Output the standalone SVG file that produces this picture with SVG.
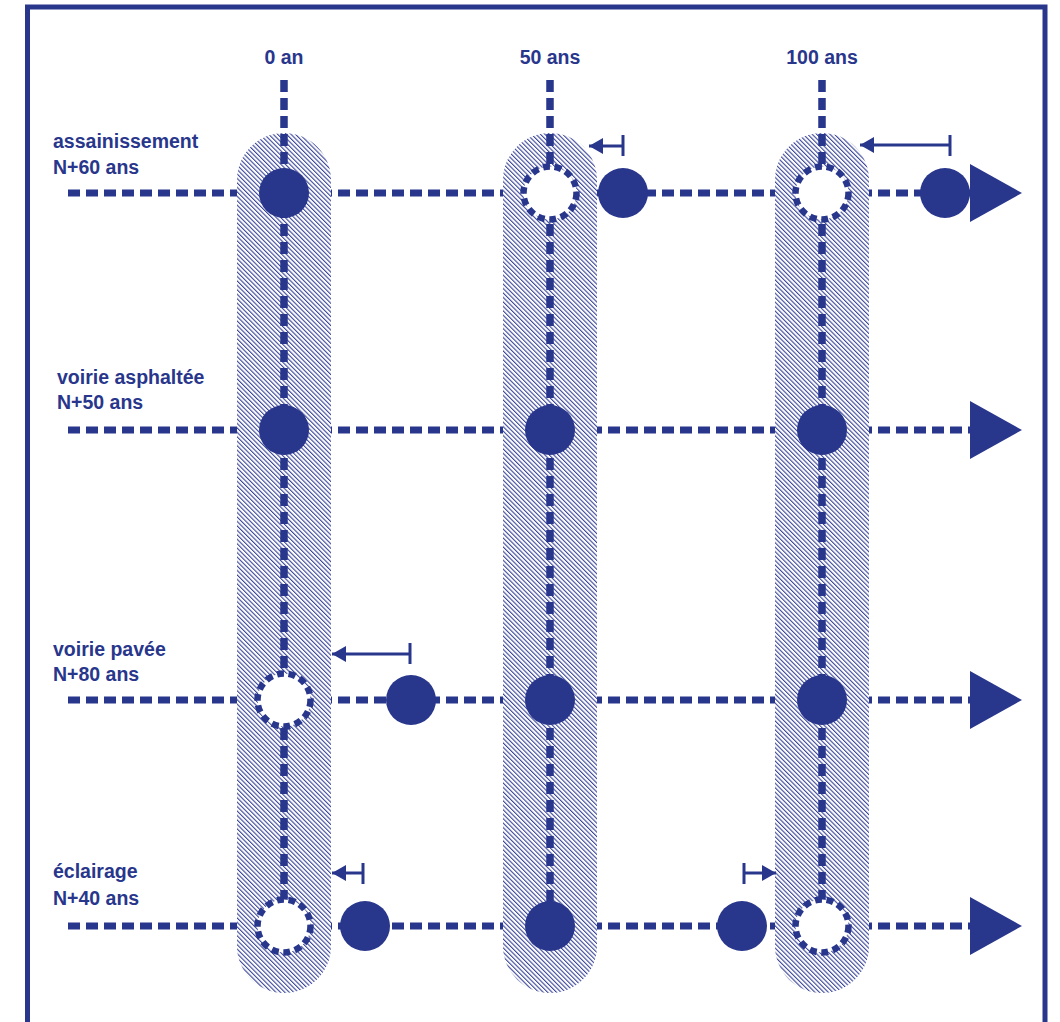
<svg xmlns="http://www.w3.org/2000/svg" width="1060" height="1022" viewBox="0 0 1060 1022">
<defs>
<pattern id="hatch" width="3.15" height="10" patternUnits="userSpaceOnUse" patternTransform="rotate(-45)">
<rect x="0" y="0" width="1.1" height="10" fill="#3a469a"/>
</pattern>
<marker id="ah" viewBox="0 0 14 16" refX="14" refY="8" markerWidth="14" markerHeight="16" markerUnits="userSpaceOnUse" orient="auto">
<path d="M0,0 L14,8 L0,16 Z" fill="#28368c"/>
</marker>
</defs>
<style>
.hl{stroke:#28368c;stroke-width:7;stroke-dasharray:12 6;fill:none}
.vl{stroke:#28368c;stroke-width:7.5;stroke-dasharray:12 6;fill:none}
.col{fill:url(#hatch)}
.colbg{fill:#fff}
.full{fill:#28368c}
.dash{fill:#fff;stroke:#28368c;stroke-width:6.5;stroke-dasharray:7 4.7}
.tri{fill:#28368c}
.sm{stroke:#28368c;stroke-width:3;fill:none}
.lbl{font-family:"Liberation Sans",Arial,sans-serif;font-weight:bold;font-size:19.5px;fill:#28368c}
</style>
<rect x="27.5" y="7" width="1017.5" height="1040" fill="none" stroke="#28368c" stroke-width="5"/>

<g id="labels">
<text class="lbl" x="284" y="64" text-anchor="middle">0 an</text>
<text class="lbl" x="550" y="64" text-anchor="middle">50 ans</text>
<text class="lbl" x="822" y="64" text-anchor="middle">100 ans</text>
<text class="lbl" x="53" y="148">assainissement</text>
<text class="lbl" x="53" y="174">N+60 ans</text>
<text class="lbl" x="57" y="384">voirie asphaltée</text>
<text class="lbl" x="57" y="409">N+50 ans</text>
<text class="lbl" x="53" y="656">voirie pavée</text>
<text class="lbl" x="53" y="681">N+80 ans</text>
<text class="lbl" x="53" y="878">éclairage</text>
<text class="lbl" x="53" y="905">N+40 ans</text>
</g>

<g id="connectors">
<line class="hl" x1="68" y1="193" x2="972" y2="193"/>
<line class="hl" x1="68" y1="430" x2="972" y2="430"/>
<line class="hl" x1="68" y1="700" x2="972" y2="700"/>
<line class="hl" x1="68" y1="926" x2="972" y2="926"/>
</g>

<g id="columns">
<rect class="colbg" x="237" y="133" width="94" height="860" rx="47"/>
<rect class="col" x="237" y="133" width="94" height="860" rx="47"/>
<rect class="colbg" x="503" y="133" width="94" height="860" rx="47"/>
<rect class="col" x="503" y="133" width="94" height="860" rx="47"/>
<rect class="colbg" x="775" y="133" width="94" height="860" rx="47"/>
<rect class="col" x="775" y="133" width="94" height="860" rx="47"/>
</g>

<g id="timelines">
<line class="vl" x1="284" y1="80" x2="284" y2="926"/>
<line class="vl" x1="550" y1="80" x2="550" y2="926"/>
<line class="vl" x1="822" y1="80" x2="822" y2="926"/>
</g>

<g id="row-assainissement">
<circle class="full" cx="284" cy="193" r="25"/>
<circle class="dash" cx="550" cy="193" r="26.5"/>
<circle class="full" cx="623" cy="193" r="25"/>
<circle class="dash" cx="822" cy="193" r="26.5"/>
<circle class="full" cx="945" cy="193" r="25"/>
<path class="tri" d="M970,164 L1022,193 L970,222 Z"/>
</g>
<g id="row-voirie-asphaltee">
<circle class="full" cx="284" cy="430" r="25"/>
<circle class="full" cx="550" cy="430" r="25"/>
<circle class="full" cx="822" cy="430" r="25"/>
<path class="tri" d="M970,401 L1022,430 L970,459 Z"/>
</g>
<g id="row-voirie-pavee">
<circle class="dash" cx="284" cy="700" r="26.5"/>
<circle class="full" cx="411" cy="700" r="25"/>
<circle class="full" cx="550" cy="700" r="25"/>
<circle class="full" cx="822" cy="700" r="25"/>
<path class="tri" d="M970,671 L1022,700 L970,729 Z"/>
</g>
<g id="row-eclairage">
<circle class="dash" cx="284" cy="926" r="26.5"/>
<circle class="full" cx="365" cy="926" r="25"/>
<circle class="full" cx="550" cy="926" r="25"/>
<circle class="full" cx="742" cy="926" r="25"/>
<circle class="dash" cx="822" cy="926" r="26.5"/>
<path class="tri" d="M970,897 L1022,926 L970,955 Z"/>
</g>

<g id="shifts">
<line class="sm" x1="623" y1="135" x2="623" y2="156"/>
<line class="sm" x1="623" y1="146" x2="589" y2="146" marker-end="url(#ah)"/>
<line class="sm" x1="950" y1="135" x2="950" y2="156"/>
<line class="sm" x1="950" y1="145" x2="860" y2="145" marker-end="url(#ah)"/>
<line class="sm" x1="410" y1="643" x2="410" y2="664"/>
<line class="sm" x1="410" y1="654" x2="332" y2="654" marker-end="url(#ah)"/>
<line class="sm" x1="363" y1="863" x2="363" y2="884"/>
<line class="sm" x1="363" y1="873" x2="332" y2="873" marker-end="url(#ah)"/>
<line class="sm" x1="744" y1="863" x2="744" y2="884"/>
<line class="sm" x1="744" y1="873" x2="776" y2="873" marker-end="url(#ah)"/>
</g>
</svg>
